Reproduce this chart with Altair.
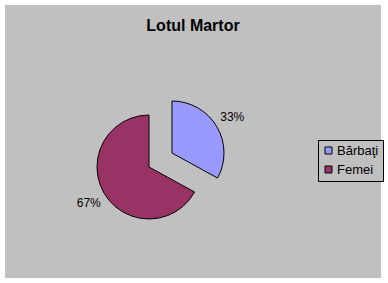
import math
import altair as alt
import pandas as pd

categories = ["Bărbaţi", "Femei"]
values = [33, 67]
colors = ["#9999FF", "#993366"]

df = pd.DataFrame({"cat": categories, "value": values, "order": [0, 1]})

W, H = 376, 273

theta_scale = alt.Scale(domain=[0, 1], range=[0, 2 * math.pi])
color = alt.Color("cat:N", title=None,
                  scale=alt.Scale(domain=categories, range=colors),
                  sort=categories)

base = (
    alt.Chart(df)
    .transform_joinaggregate(total="sum(value)")
    .transform_window(cum="sum(value)", sort=[alt.SortField("order")], frame=[None, 0])
    .transform_calculate(
        start="(datum.cum - datum.value) / datum.total",
        end="datum.cum / datum.total",
        mid="(datum.cum - datum.value / 2) / datum.total",
        label="datum.value + '%'",
    )
)

# plot-area background (grey panel)
panel = alt.Chart(df).mark_rect(fill="#C0C0C0").encode(
    x=alt.value(0), x2=alt.value(W), y=alt.value(0), y2=alt.value(H)
)

# centres of the pie (view coordinates); the first slice is pulled out
centres = {"Bărbaţi": (167, 148), "Femei": (144, 162)}

layers = [panel]
for cat in categories:
    cx, cy = centres[cat]
    sub = base.transform_filter(alt.FieldEqualPredicate(field="cat", equal=cat))
    arc = sub.mark_arc(x=cx, y=cy, outerRadius=52, stroke="black", strokeWidth=1).encode(
        theta=alt.Theta("start:Q", scale=theta_scale),
        theta2="end:Q",
        color=color,
    )
    txt = sub.mark_text(x=cx, y=cy, radius=70, font="Liberation Sans", fontSize=12,
                        color="black", align="center", baseline="middle").encode(
        theta=alt.Theta("mid:Q", scale=theta_scale),
        text="label:N",
    )
    layers += [arc, txt]

chart = (
    alt.layer(*layers)
    .properties(
        width=W, height=H,
        padding={"left": 5, "top": 5, "right": 7, "bottom": 5},
        autosize=alt.AutoSizeParams(type="none"),
        background="white",
        title=alt.TitleParams("Lotul Martor", font="Liberation Sans", fontSize=16,
                              fontWeight="bold", color="black", anchor="middle",
                              frame="group", baseline="alphabetic", offset=-42),
    )
    .configure_view(strokeWidth=0)
    .configure_legend(
        orient="none", legendX=313, legendY=135,
        fillColor="#C0C0C0", strokeColor="black", padding=4, cornerRadius=0,
        symbolType="square", symbolSize=49, symbolStrokeColor="black",
        symbolStrokeWidth=1, symbolOpacity=1,
        labelFont="Liberation Sans", labelFontSize=13, labelColor="black",
        labelOffset=2, rowPadding=5,
    )
)

chart.save("out.html", embed_options={"renderer": "svg", "actions": False})
